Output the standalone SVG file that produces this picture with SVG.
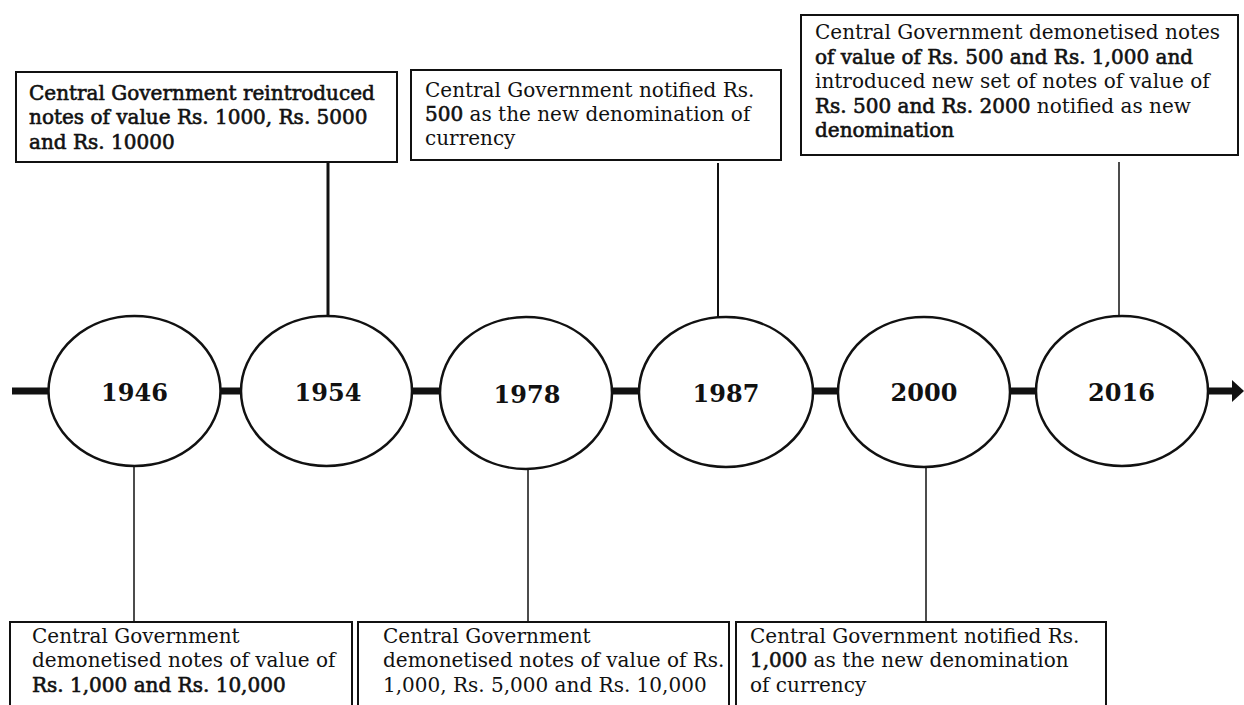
<svg xmlns="http://www.w3.org/2000/svg" width="1244" height="705" viewBox="0 0 1244 705">
<style>
  .box { fill: #fff; stroke: #111; stroke-width: 2; }
  .t { font-family: "DejaVu Serif", "Liberation Serif", serif; font-size: 20px; fill: #111; }
  .b { stroke: #111; stroke-width: 0.6; }
  .yr { font-family: "DejaVu Serif", "Liberation Serif", serif; font-size: 24px; font-weight: bold; fill: #111; text-anchor: middle; }
  .node { fill: #fff; stroke: #111; stroke-width: 2.5; }
  .conn { stroke: #111; fill: none; }
</style>
<rect width="1244" height="705" fill="#fff"/>

<g id="connectors">
  <line class="conn" x1="12" y1="391" x2="1234" y2="391" stroke-width="7"/>
  <polygon points="1232,380 1244,391 1232,402" fill="#111"/>
  <line class="conn" x1="328" y1="163" x2="328" y2="317" stroke-width="3"/>
  <line class="conn" x1="718" y1="163" x2="718" y2="318" stroke-width="2"/>
  <line class="conn" x1="1119" y1="162" x2="1119" y2="317" stroke-width="1.5"/>
  <line class="conn" x1="134" y1="465" x2="134" y2="622" stroke-width="1.5"/>
  <line class="conn" x1="528" y1="468" x2="528" y2="622" stroke-width="1.5"/>
  <line class="conn" x1="926" y1="467" x2="926" y2="622" stroke-width="1.5"/>
</g>

<g id="node-1946">
  <ellipse class="node" cx="134.5" cy="391" rx="86" ry="75"/>
  <text class="yr" x="134.5" y="401">1946</text>
</g>
<g id="node-1954">
  <ellipse class="node" cx="326.5" cy="391" rx="85.5" ry="75"/>
  <text class="yr" x="328" y="401">1954</text>
</g>
<g id="node-1978">
  <ellipse class="node" cx="526" cy="393" rx="86" ry="76"/>
  <text class="yr" x="527" y="403">1978</text>
</g>
<g id="node-1987">
  <ellipse class="node" cx="726" cy="392" rx="87" ry="75"/>
  <text class="yr" x="726" y="402">1987</text>
</g>
<g id="node-2000">
  <ellipse class="node" cx="924" cy="392" rx="86" ry="75"/>
  <text class="yr" x="924" y="401">2000</text>
</g>
<g id="node-2016">
  <ellipse class="node" cx="1122" cy="391" rx="86" ry="75"/>
  <text class="yr" x="1121.5" y="401">2016</text>
</g>

<g id="note-1954">
  <rect class="box" x="16" y="72" width="381" height="90" stroke-width="2.5"/>
  <text class="t b" x="29" y="100">Central Government reintroduced</text>
  <text class="t b" x="29" y="124">notes of value Rs. 1000, Rs. 5000</text>
  <text class="t b" x="29" y="149">and Rs. 10000</text>
</g>
<g id="note-1987">
  <rect class="box" x="411" y="70" width="370" height="90"/>
  <text class="t" x="425" y="97">Central Government notified Rs.</text>
  <text class="t" x="425" y="121"><tspan class="b">500</tspan> as the new denomination of</text>
  <text class="t" x="425" y="145">currency</text>
</g>
<g id="note-2016">
  <rect class="box" x="801" y="15" width="437" height="140"/>
  <text class="t" x="815" y="39">Central Government demonetised notes</text>
  <text class="t b" x="815" y="64">of value of Rs. 500 and Rs. 1,000 and</text>
  <text class="t" x="815" y="88">introduced new set of notes of value of</text>
  <text class="t" x="815" y="113"><tspan class="b">Rs. 500 and Rs. 2000</tspan> notified as new</text>
  <text class="t b" x="815" y="137">denomination</text>
</g>
<g id="note-1946">
  <rect class="box" x="10" y="622" width="342" height="90"/>
  <text class="t" x="32" y="643">Central Government</text>
  <text class="t" x="32" y="667">demonetised notes of value of</text>
  <text class="t b" x="32" y="692">Rs. 1,000 and Rs. 10,000</text>
</g>
<g id="note-1978">
  <rect class="box" x="358" y="622" width="371" height="90"/>
  <text class="t" x="383" y="643">Central Government</text>
  <text class="t" x="383" y="667">demonetised notes of value of Rs.</text>
  <text class="t" x="383" y="692">1,000, Rs. 5,000 and Rs. 10,000</text>
</g>
<g id="note-2000">
  <rect class="box" x="736" y="622" width="370" height="90"/>
  <text class="t" x="750" y="643">Central Government notified Rs.</text>
  <text class="t" x="750" y="667"><tspan class="b">1,000</tspan> as the new denomination</text>
  <text class="t" x="750" y="692">of currency</text>
</g>
</svg>
